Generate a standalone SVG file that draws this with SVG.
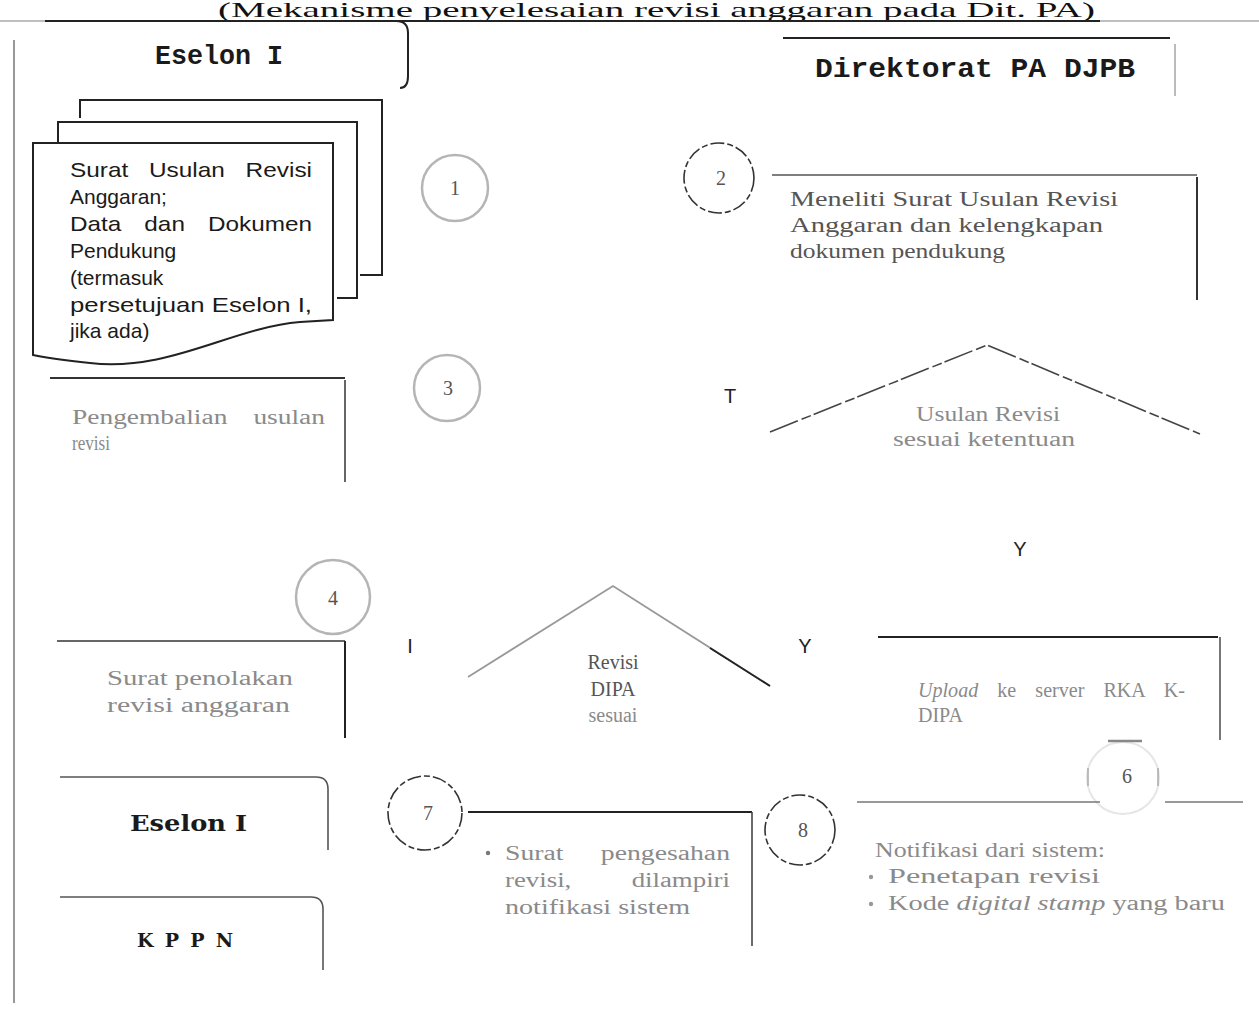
<svg xmlns="http://www.w3.org/2000/svg" width="1259" height="1016" viewBox="0 0 1259 1016">
<style>
.ln{fill:none;stroke:#222;stroke-width:2}
.cir{fill:none;stroke:#b5b5b5;stroke-width:2.5}
.cird{fill:none;stroke:#333;stroke-width:1.6;stroke-dasharray:14 3 6 3}
.doc{fill:#fff;stroke:#222;stroke-width:2}
.hd{font-family:"Liberation Mono",monospace;font-weight:bold;fill:#1a1a1a}
.hb{font-family:"DejaVu Serif","Liberation Serif",serif;font-weight:bold;fill:#1a1a1a}
.ds{font-family:"Liberation Sans",Arial,sans-serif;font-size:21px;fill:#1a1a1a}
.gs{font-family:"Liberation Serif","Times New Roman",serif;font-size:20px;fill:#8a8a8a}
.gd{font-family:"Liberation Serif","Times New Roman",serif;font-size:20px;fill:#555}
.num{font-family:"Liberation Serif",serif;font-size:20px;fill:#555;text-anchor:middle}
.lab{font-family:"Liberation Sans",Arial,sans-serif;font-size:20px;fill:#222;text-anchor:middle}
</style>
<rect width="1259" height="1016" fill="#fff"/>

<g id="frame">
  <text x="218" y="17" textLength="877" lengthAdjust="spacingAndGlyphs" style="font-family:'Liberation Serif',serif;font-size:21px;fill:#111">(Mekanisme penyelesaian revisi anggaran pada Dit. PA)</text>
  <line x1="0" y1="21" x2="1259" y2="21" stroke="#aaa" stroke-width="1.5"/>
  <line x1="225" y1="21" x2="1100" y2="21" stroke="#222" stroke-width="2"/>
  <line x1="14" y1="40" x2="14" y2="1003" stroke="#999" stroke-width="2"/>
</g>

<g id="connectors"></g>

<g id="head-eselon">
  <path class="ln" d="M45,21 H396 Q408,21 408,33 V76 Q408,88 400,88"/>
  <text class="hd" x="155" y="64" font-size="27" textLength="128" lengthAdjust="spacingAndGlyphs">Eselon I</text>
</g>

<g id="head-direktorat">
  <path class="ln" d="M783,38 H1170" stroke="#333"/>
  <line x1="1175" y1="44" x2="1175" y2="96" stroke="#bbb" stroke-width="2"/>
  <text class="hd" x="815" y="77" font-size="27" textLength="320" lengthAdjust="spacingAndGlyphs">Direktorat PA DJPB</text>
</g>

<g id="doc-usulan">
  <path class="ln" d="M80,118 V100 H382 V275 H360"/>
  <path class="ln" d="M58,143 V122 H357 V298 H337"/>
  <path class="doc" d="M33,355 V143 H333 V320 L300,322 C230,328 170,372 90,363 C60,360 42,357 33,355 Z"/>
  <text class="ds" x="70" y="177" word-spacing="12" textLength="242" lengthAdjust="spacingAndGlyphs">Surat Usulan Revisi</text>
  <text class="ds" x="70" y="204">Anggaran;</text>
  <text class="ds" x="70" y="231" word-spacing="14" textLength="242" lengthAdjust="spacingAndGlyphs">Data dan Dokumen</text>
  <text class="ds" x="70" y="258">Pendukung</text>
  <text class="ds" x="70" y="285">(termasuk</text>
  <text class="ds" x="70" y="312" textLength="242" lengthAdjust="spacingAndGlyphs">persetujuan Eselon I,</text>
  <text class="ds" x="70" y="338">jika ada)</text>
</g>

<g id="step1">
  <circle class="cir" cx="455" cy="188" r="33"/>
  <text class="num" x="455" y="195">1</text>
</g>

<g id="step2">
  <circle class="cird" cx="719" cy="178" r="35"/>
  <text class="num" x="721" y="185" fill="#222">2</text>
</g>

<g id="box-meneliti">
  <line x1="772" y1="175" x2="1197" y2="175" stroke="#555" stroke-width="1.5"/>
  <line x1="1197" y1="177" x2="1197" y2="300" stroke="#333" stroke-width="2"/>
  <text class="gd" x="790" y="206" textLength="328" lengthAdjust="spacingAndGlyphs">Meneliti Surat Usulan Revisi</text>
  <text class="gd" x="790" y="232" textLength="313" lengthAdjust="spacingAndGlyphs">Anggaran dan kelengkapan</text>
  <text class="gd" x="790" y="258" textLength="215" lengthAdjust="spacingAndGlyphs">dokumen pendukung</text>
</g>

<g id="step3">
  <circle class="cir" cx="447" cy="388" r="33" stroke="#999"/>
  <text class="num" x="448" y="395">3</text>
</g>

<g id="box-pengembalian">
  <line x1="50" y1="378" x2="345" y2="378" stroke="#333" stroke-width="2"/>
  <line x1="345" y1="380" x2="345" y2="482" stroke="#666" stroke-width="2"/>
  <text class="gs" x="72" y="424" word-spacing="14" textLength="253" lengthAdjust="spacingAndGlyphs">Pengembalian usulan</text>
  <text class="gs" x="72" y="450" font-size="15" textLength="38" lengthAdjust="spacingAndGlyphs">revisi</text>
</g>

<g id="decision-usulan">
  <path d="M770,432 L987,345 L1200,434" fill="none" stroke="#444" stroke-width="1.6" stroke-dasharray="30 4 10 3"/>
  <text class="gs" x="988" y="421" text-anchor="middle" fill="#aaa" font-size="18" textLength="144" lengthAdjust="spacingAndGlyphs">Usulan Revisi</text>
  <text class="gs" x="984" y="446" text-anchor="middle" fill="#aaa" font-size="18" textLength="182" lengthAdjust="spacingAndGlyphs">sesuai ketentuan</text>
  <text class="lab" x="730" y="403">T</text>
  <text class="lab" x="1020" y="556">Y</text>
</g>

<g id="step4">
  <circle class="cir" cx="333" cy="597" r="37" stroke-width="3"/>
  <text class="num" x="333" y="605" fill="#222" font-size="22">4</text>
</g>

<g id="box-penolakan">
  <line x1="57" y1="641" x2="345" y2="641" stroke="#333" stroke-width="1.6"/>
  <line x1="345" y1="641" x2="345" y2="738" stroke="#222" stroke-width="2"/>
  <text class="gs" x="107" y="685" textLength="186" lengthAdjust="spacingAndGlyphs">Surat penolakan</text>
  <text class="gs" x="107" y="712" textLength="183" lengthAdjust="spacingAndGlyphs">revisi anggaran</text>
</g>

<g id="decision-dipa">
  <path d="M468,677 L613,586 L770,686" fill="none" stroke="#999" stroke-width="1.8"/>
  <path d="M710,648 L770,686" fill="none" stroke="#222" stroke-width="1.8"/>
  <text class="gd" x="613" y="669" text-anchor="middle">Revisi</text>
  <text class="gd" x="613" y="696" text-anchor="middle">DIPA</text>
  <text class="gs" x="613" y="722" text-anchor="middle" font-size="15" fill="#aaa">sesuai</text>
  <text class="lab" x="410" y="653" fill="#999">I</text>
  <text class="lab" x="805" y="653">Y</text>
</g>

<g id="box-upload">
  <line x1="878" y1="637" x2="1218" y2="637" stroke="#222" stroke-width="2"/>
  <line x1="1220" y1="637" x2="1220" y2="740" stroke="#777" stroke-width="2"/>
  <text class="gs" x="918" y="697" word-spacing="14" textLength="267" lengthAdjust="spacingAndGlyphs"><tspan font-style="italic">Upload</tspan> ke server RKA K-</text>
  <text class="gs" x="918" y="722" font-size="15">DIPA</text>
</g>

<g id="step6">
  <circle cx="1123" cy="778" r="36" fill="none" stroke="#e6e6e6" stroke-width="2"/>
  <path d="M1108,741 H1142" stroke="#888" stroke-width="2.5"/>
  <path d="M1088,768 V786 M1158,768 V786" stroke="#aaa" stroke-width="1.5"/>
  <text class="num" x="1127" y="783" font-size="16">6</text>
</g>

<g id="step7">
  <circle class="cird" cx="425" cy="813" r="37" stroke="#999"/>
  <text class="num" x="428" y="820" fill="#aaa">7</text>
</g>

<g id="box-pengesahan">
  <line x1="468" y1="812" x2="752" y2="812" stroke="#222" stroke-width="2"/>
  <line x1="752" y1="812" x2="752" y2="946" stroke="#444" stroke-width="1.6"/>
  <circle cx="488" cy="853" r="2.2" fill="#777"/>
  <text class="gs" x="505" y="860" word-spacing="22" textLength="225" lengthAdjust="spacingAndGlyphs">Surat pengesahan</text>
  <text class="gs" x="505" y="887" word-spacing="40" textLength="225" lengthAdjust="spacingAndGlyphs">revisi, dilampiri</text>
  <text class="gs" x="505" y="914" textLength="185" lengthAdjust="spacingAndGlyphs">notifikasi sistem</text>
</g>

<g id="step8">
  <circle class="cird" cx="800" cy="830" r="35" stroke="#777"/>
  <text class="num" x="803" y="837" fill="#222">8</text>
</g>

<g id="box-notifikasi">
  <line x1="857" y1="802" x2="1100" y2="802" stroke="#777" stroke-width="1.6"/>
  <line x1="1165" y1="802" x2="1243" y2="802" stroke="#777" stroke-width="1.6"/>
  <text class="gs" x="875" y="857" textLength="230" lengthAdjust="spacingAndGlyphs">Notifikasi dari sistem:</text>
  <circle cx="871" cy="877" r="2.2" fill="#999"/>
  <text class="gs" x="888" y="883" textLength="212" lengthAdjust="spacingAndGlyphs">Penetapan revisi</text>
  <circle cx="871" cy="904" r="2.2" fill="#999"/>
  <text class="gs" x="888" y="910" textLength="337" lengthAdjust="spacingAndGlyphs">Kode <tspan font-style="italic">digital stamp</tspan> yang baru</text>
</g>

<g id="eselon-bottom">
  <path d="M60,777 H316 Q328,777 328,789 V850" fill="none" stroke="#555" stroke-width="1.6"/>
  <text class="hb" x="130" y="831" font-size="22" textLength="117" lengthAdjust="spacingAndGlyphs">Eselon I</text>
</g>

<g id="kppn">
  <path d="M60,897 H311 Q323,897 323,909 V970" fill="none" stroke="#555" stroke-width="1.6"/>
  <text class="hb" x="137" y="947" font-size="19" textLength="96" lengthAdjust="spacing">K P P N</text>
</g>
</svg>
